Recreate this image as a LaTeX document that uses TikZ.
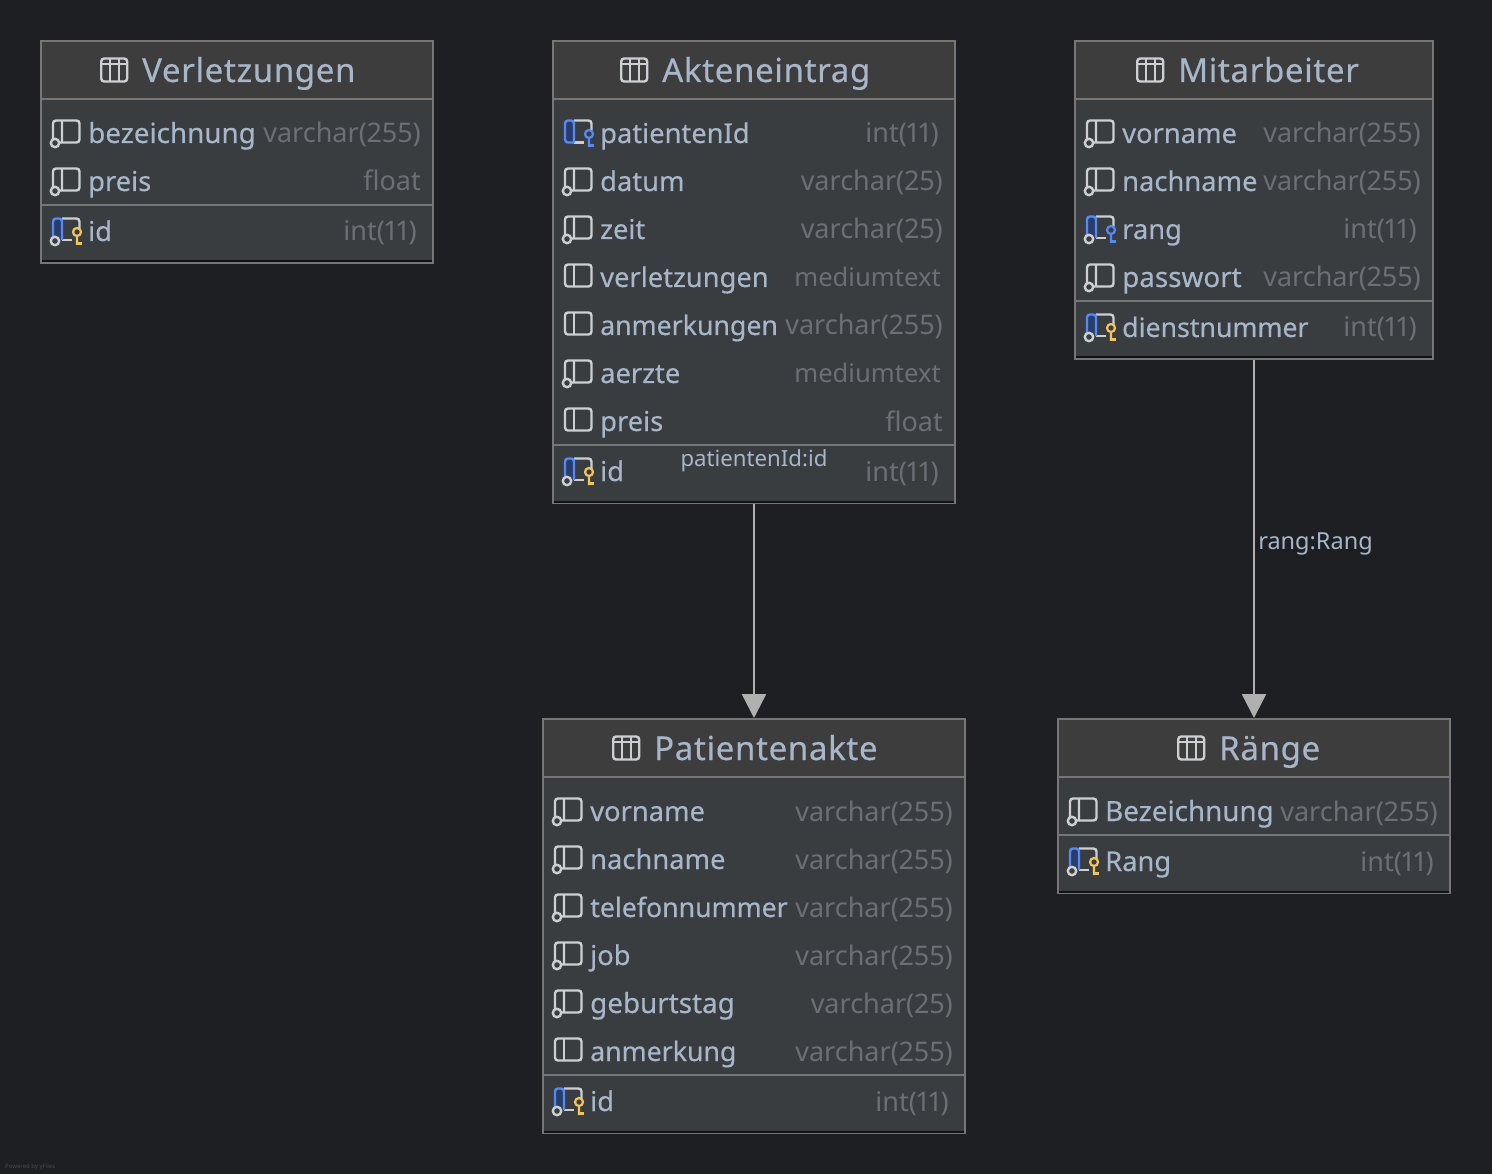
\documentclass[tikz,border=0pt]{standalone}
\usepackage{fontspec}
\setmainfont[Numbers=Proportional]{Noto Sans}
\newfontfamily\namefont[FakeBold=0.4]{Noto Sans}
\newfontfamily\titlefont[FakeBold=0.4,LetterSpace=2]{Noto Sans}
\usetikzlibrary{arrows.meta}
\definecolor{bgdark}{HTML}{1E1F22}
\definecolor{bodyfill}{HTML}{3A3D40}
\definecolor{headfill}{HTML}{3D3D3D}
\definecolor{edgegrey}{HTML}{767676}
\definecolor{namecol}{HTML}{A7B6C9}
\definecolor{typecol}{HTML}{6C7076}
\definecolor{iconcol}{HTML}{CDCFD3}
\definecolor{keyblue}{HTML}{548AF7}
\definecolor{keyfill}{HTML}{2A3D66}
\definecolor{keygold}{HTML}{F2C55C}
\definecolor{linkcol}{HTML}{B0B0B0}
\tikzset{
  tbl/.style={draw=edgegrey, fill=bodyfill, line width=2pt, inner sep=0pt},
  sep/.style={edgegrey, line width=2pt},
  shade/.style={black!70!bodyfill, line width=2pt},
  title/.style={anchor=base west, text=namecol, inner sep=0pt, font=\titlefont\fontsize{33}{36}\selectfont},
  colname/.style={anchor=base west, text=namecol, inner sep=0pt, font=\namefont\fontsize{27.3}{30}\selectfont},
  colnarrow/.style={colname, font=\namefont\fontsize{26.7}{30}\selectfont},
  colwide/.style={colname, font=\namefont\fontsize{27.8}{30}\selectfont},
  coltype/.style={anchor=base east, text=typecol, inner sep=0pt, font=\fontsize{27}{30}\selectfont},
  linklabel/.style={text=namecol, inner sep=0pt, font=\fontsize{23.5}{26}\selectfont},
  link/.style={linkcol, line width=2.5pt, -{Triangle[length=24pt,width=24pt]}},
  icon/.style={iconcol, line width=2.4pt},
  pics/tableicon/.style={code={
    \draw[icon, rounded corners=3pt] (0.2,-11.5) rectangle (26.2,11.5);
    \draw[icon] (0.2,-6) -- (26.2,-6) (9,-11.5) -- (9,11.5) (18,-11.5) -- (18,11.5);
  }},
  pics/plaincol/.style={code={
    \draw[icon, rounded corners=3pt] (1,-12.5) rectangle (27.5,9.5);
    \draw[icon] (10,-12.5) -- (10,9.5);
  }},
  pics/nullcol/.style={code={
    \draw[icon, rounded corners=3pt] (1,6) -- (1,-12.5) -- (27.5,-12.5) -- (27.5,9.5) -- (8,9.5);
    \draw[icon] (10,-12.5) -- (10,9.5) (3,10) circle (4.2pt);
  }},
  pics/keycol/.style={code={
    \fill[keyfill] (1,-12.5) rectangle (10,6);
    \draw[icon, rounded corners=3pt] (10,-12.5) -- (27.5,-12.5) -- (27.5,-3);
    \draw[icon] (10,9) -- (20,9);
    \draw[keyblue, line width=2.4pt, rounded corners=3pt] (1,6) -- (1,-12.5) -- (10,-12.5) -- (10,9);
    \draw[icon] (3,10) circle (4.2pt);
    \draw[#1, line width=2.2pt] (25,1) circle (4pt) (25,5) -- (25,14);
    \draw[#1, line width=2.5pt] (25,12.5) -- (30,12.5);
  }},
  pics/keycolb/.style={code={
    \fill[keyfill] (1,-12.5) rectangle (10,9.5);
    \draw[icon, rounded corners=3pt] (10,-12.5) -- (27.5,-12.5) -- (27.5,-3);
    \draw[icon] (10,9.5) -- (20,9.5);
    \draw[keyblue, line width=2.4pt, rounded corners=3pt] (10,9.5) -- (1,9.5) -- (1,-12.5) -- (10,-12.5) -- (10,9.5);
    \draw[keyblue, line width=2.2pt] (25,1) circle (4pt) (25,5) -- (25,14);
    \draw[keyblue, line width=2.5pt] (25,12.5) -- (30,12.5);
  }},
}
\begin{document}
\begin{tikzpicture}[x=1pt, y=-1pt]
  \useasboundingbox[fill=bgdark] (0,0) rectangle (1492,1174);
  \node (powered) [anchor=base west, inner sep=0pt, text=typecol!55!bgdark, font=\fontsize{6}{7}\selectfont] at (5,1168) {Powered by yFiles};

  % Verletzungen
  \node (verl) [tbl, minimum width=392pt, minimum height=222pt] at (237,152) {};
  \fill[headfill] (42,42) rectangle (432,98);
  \draw[sep] (41,99) -- (433,99);
  \draw[sep] (41,205) -- (433,205);
  \draw[shade] (42,261.5) -- (432,261.5);
  \pic at (101,70) {tableicon};
  \node (verlt) [title] at (142,82) {Verletzungen};
  \pic at (52,133) {nullcol};
  \node (verl1) [colwide] at (88,143) {bezeichnung};
  \node (verl1t) [coltype] at (421,143) {varchar(255)};
  \pic at (52,181) {nullcol};
  \node (verl2) [colname] at (88,191) {preis};
  \node (verl2t) [coltype] at (421,191) {float};
  \pic at (52,231) {keycol=keygold};
  \node (verl3) [colname] at (88,241) {id};
  \node (verl3t) [coltype] at (417,241) {int(11)};

  % Akteneintrag
  \node (akte) [tbl, minimum width=402pt, minimum height=462pt] at (754,272) {};
  \fill[headfill] (554,42) rectangle (954,98);
  \draw[sep] (553,99) -- (955,99);
  \draw[sep] (553,445) -- (955,445);
  \draw[shade] (554,501.5) -- (954,501.5);
  \pic at (621,70) {tableicon};
  \node (aktet) [title] at (662,82) {Akteneintrag};
  \pic at (564,133) {keycolb};
  \node (akte1) [colname] at (600,143) {patientenId};
  \node (akte1t) [coltype] at (939,143) {int(11)};
  \pic at (564,181) {nullcol};
  \node (akte2) [colname] at (600,191) {datum};
  \node (akte2t) [coltype] at (943,191) {varchar(25)};
  \pic at (564,229) {nullcol};
  \node (akte3) [colname] at (600,239) {zeit};
  \node (akte3t) [coltype] at (943,239) {varchar(25)};
  \pic at (564,277) {plaincol};
  \node (akte4) [colname] at (600,287) {verletzungen};
  \node (akte4t) [coltype, font=\fontsize{25.6}{30}\selectfont] at (941,287) {mediumtext};
  \pic at (564,325) {plaincol};
  \node (akte5) [colnarrow] at (600,335) {anmerkungen};
  \node (akte5t) [coltype] at (943,335) {varchar(255)};
  \pic at (564,373) {nullcol};
  \node (akte6) [colname] at (600,383) {aerzte};
  \node (akte6t) [coltype, font=\fontsize{25.6}{30}\selectfont] at (941,383) {mediumtext};
  \pic at (564,421) {plaincol};
  \node (akte7) [colname] at (600,431) {preis};
  \node (akte7t) [coltype] at (943,431) {float};
  \pic at (564,471) {keycol=keygold};
  \node (akte8) [colname] at (600,481) {id};
  \node (akte8t) [coltype] at (939,481) {int(11)};

  % Mitarbeiter
  \node (mitarb) [tbl, minimum width=358pt, minimum height=318pt] at (1254,200) {};
  \fill[headfill] (1076,42) rectangle (1432,98);
  \draw[sep] (1075,99) -- (1433,99);
  \draw[sep] (1075,301) -- (1433,301);
  \draw[shade] (1076,357.5) -- (1432,357.5);
  \pic at (1137,70) {tableicon};
  \node (mitarbt) [title] at (1178,82) {Mitarbeiter};
  \pic at (1086,133) {nullcol};
  \node (mitarb1) [colname] at (1122,143) {vorname};
  \node (mitarb1t) [coltype] at (1421,143) {varchar(255)};
  \pic at (1086,181) {nullcol};
  \node (mitarb2) [colname] at (1122,191) {nachname};
  \node (mitarb2t) [coltype] at (1421,191) {varchar(255)};
  \pic at (1086,229) {keycol=keyblue};
  \node (mitarb3) [colname] at (1122,239) {rang};
  \node (mitarb3t) [coltype] at (1417,239) {int(11)};
  \pic at (1086,277) {nullcol};
  \node (mitarb4) [colwide] at (1122,287) {passwort};
  \node (mitarb4t) [coltype] at (1421,287) {varchar(255)};
  \pic at (1086,327) {keycol=keygold};
  \node (mitarb5) [colnarrow] at (1122,337) {dienstnummer};
  \node (mitarb5t) [coltype] at (1417,337) {int(11)};

  % Patientenakte
  \node (patient) [tbl, minimum width=422pt, minimum height=414pt] at (754,926) {};
  \fill[headfill] (544,720) rectangle (964,776);
  \draw[sep] (543,777) -- (965,777);
  \draw[sep] (543,1075) -- (965,1075);
  \draw[shade] (544,1131.5) -- (964,1131.5);
  \pic at (613,748) {tableicon};
  \node (patientt) [title] at (654,760) {Patientenakte};
  \pic at (554,811) {nullcol};
  \node (patient1) [colname] at (590,821) {vorname};
  \node (patient1t) [coltype] at (953,821) {varchar(255)};
  \pic at (554,859) {nullcol};
  \node (patient2) [colname] at (590,869) {nachname};
  \node (patient2t) [coltype] at (953,869) {varchar(255)};
  \pic at (554,907) {nullcol};
  \node (patient3) [colnarrow] at (590,917) {telefonnummer};
  \node (patient3t) [coltype] at (953,917) {varchar(255)};
  \pic at (554,955) {nullcol};
  \node (patient4) [colname] at (590,965) {job};
  \node (patient4t) [coltype] at (953,965) {varchar(255)};
  \pic at (554,1003) {nullcol};
  \node (patient5) [colwide] at (590,1013) {geburtstag};
  \node (patient5t) [coltype] at (953,1013) {varchar(25)};
  \pic at (554,1051) {plaincol};
  \node (patient6) [colnarrow] at (590,1061) {anmerkung};
  \node (patient6t) [coltype] at (953,1061) {varchar(255)};
  \pic at (554,1101) {keycol=keygold};
  \node (patient7) [colname] at (590,1111) {id};
  \node (patient7t) [coltype] at (949,1111) {int(11)};

  % Raenge
  \node (raenge) [tbl, minimum width=392pt, minimum height=174pt] at (1254,806) {};
  \fill[headfill] (1059,720) rectangle (1449,776);
  \draw[sep] (1058,777) -- (1450,777);
  \draw[sep] (1058,835) -- (1450,835);
  \draw[shade] (1059,891.5) -- (1449,891.5);
  \pic at (1178,748) {tableicon};
  \node (raenget) [title] at (1219,760) {Ränge};
  \pic at (1069,811) {nullcol};
  \node (raenge1) [colwide] at (1105,821) {Bezeichnung};
  \node (raenge1t) [coltype] at (1438,821) {varchar(255)};
  \pic at (1069,861) {keycol=keygold};
  \node (raenge2) [colname] at (1105,871) {Rang};
  \node (raenge2t) [coltype] at (1434,871) {int(11)};

  % Beziehungen
  \draw[link] (akte.south) -- node[linklabel, pos=0, yshift=43pt, font=\fontsize{22.2}{26}\selectfont] {patientenId:id} (patient.north);
  \draw[link] (mitarb.south) -- node[linklabel, right=3pt, pos=0.5, yshift=-5pt] {rang:Rang} (raenge.north);
\end{tikzpicture}
\end{document}
